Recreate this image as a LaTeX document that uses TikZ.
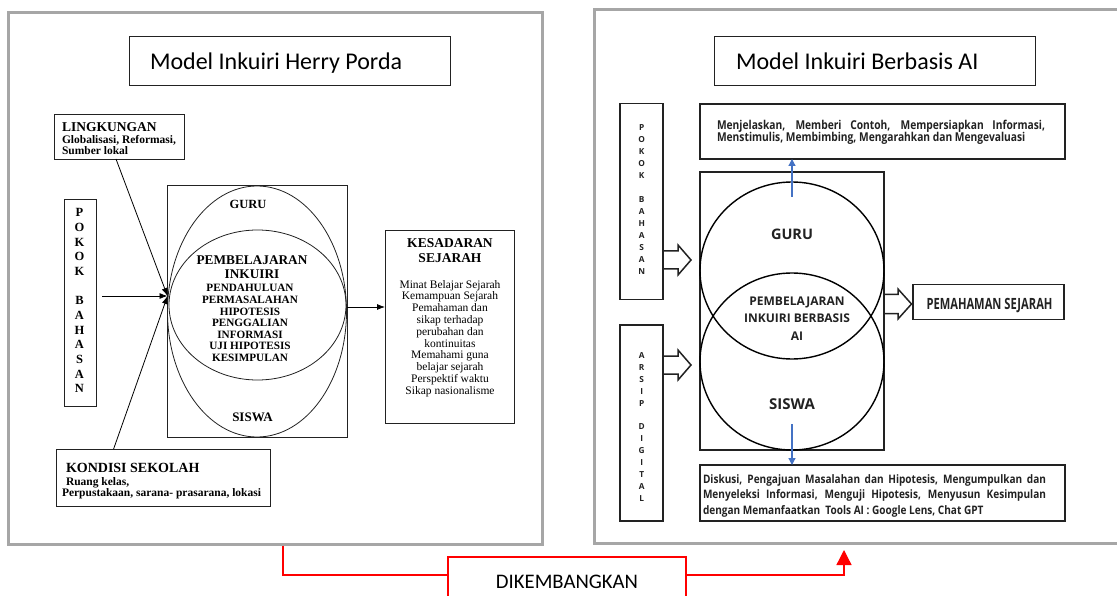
\documentclass[tikz,border=0pt]{standalone}
\usepackage{fontspec}
\usepackage{graphicx}
\setmainfont{Liberation Serif}
\newfontfamily\carl{Carlito}
\newfontfamily\osans{Open Sans}
\usetikzlibrary{arrows.meta,shapes.geometric}
\newcommand\fsz[2]{\fontsize{#1}{#2}\selectfont}
\definecolor{framegray}{HTML}{A6A6A6}
\definecolor{dk}{HTML}{222222}
\definecolor{bluearr}{HTML}{4472C4}
\begin{document}
\begin{tikzpicture}[x=1pt,y=-1pt,
  frame/.style={rectangle,draw=framegray,line width=3pt,inner sep=0pt},
  boxL/.style={rectangle,draw=dk,line width=0.9pt,inner sep=0pt,outer sep=0pt},
  boxR/.style={rectangle,draw=dk,line width=1.5pt,inner sep=0pt,outer sep=0pt},
  ellL/.style={ellipse,draw=dk,line width=0.8pt,inner sep=0pt,outer sep=0pt},
  ellR/.style={ellipse,draw=black,line width=1.4pt,inner sep=0pt,outer sep=0pt},
  txt/.style={inner sep=0pt,outer sep=0pt},
  larr/.style={draw=black,line width=0.8pt,-{Latex[length=8pt,width=6pt]}},
  barr/.style={draw=bluearr,line width=1.2pt,-{Triangle[length=7pt,width=7pt]}},
  hollow/.style={draw=dk,line width=1.5pt,line join=miter},
  redl/.style={draw=red,line width=1.3pt},
  titlefont/.style={font=\carl\fsz{24}{28}},
  rtext/.style={txt,anchor=base west,text=dk,font=\osans\bfseries\fsz{12}{14}}
]
\useasboundingbox (0,0) rectangle (1117,596);
\fill[white] (0,0) rectangle (1117,596);

% ===================== LEFT FRAME =====================
\node[frame,minimum width=534,minimum height=531] (frameL) at (275,278.5) {};
\node[boxL,minimum width=321,minimum height=49] (titleL) at (289.5,60.5) {};
\node[txt,anchor=base west,titlefont] (titleLt) at (150,69.5) {Model Inkuiri Herry Porda};

% LINGKUNGAN
\node[boxL,minimum width=130,minimum height=45] (ling) at (119,136.5) {};
\node[txt,anchor=base west,font=\bfseries\fsz{13.5}{16}] (lingT) at (62,132) {LINGKUNGAN};
\node[txt,anchor=north west,align=left,font=\bfseries\fsz{11.5}{11}] (lingB) at (62,135.1)
  {Globalisasi, Reformasi,\\Sumber lokal};

% POKOK BAHASAN (left)
\node[boxL,minimum width=32,minimum height=207] (pokokL) at (80,302.5) {};
\node[txt,anchor=north,align=center,font=\bfseries\fsz{12.5}{14.65}] (pokokLt) at (79.5,208.7)
  {P\\O\\K\\O\\K\\[14.65pt]B\\A\\H\\A\\S\\A\\N};

% central box with ellipses
\node[boxL,minimum width=180,minimum height=252] (cboxL) at (257,311) {};
\node[ellL,minimum width=179,minimum height=251] (ellOut) at (257,311.5) {};
\node[ellL,minimum width=177,minimum height=150] (ellIn) at (257.5,305) {};
\node[txt,anchor=base,font=\bfseries\fsz{12.5}{14}] (guruL) at (248,209) {GURU};
\node[txt,anchor=north,align=center,font=\bfseries\fsz{13.3}{14}] (pembL) at (252,256.2)
  {PEMBELAJARAN\\INKUIRI};
\node[txt,anchor=north,align=center,font=\bfseries\fsz{11.2}{11.6}] (stepsL) at (250,284.6)
  {PENDAHULUAN\\PERMASALAHAN\\HIPOTESIS\\PENGGALIAN\\INFORMASI\\UJI HIPOTESIS\\KESIMPULAN};
\node[txt,anchor=base,font=\bfseries\fsz{13}{14}] (siswaL) at (252.5,421) {SISWA};

% KESADARAN SEJARAH
\node[boxL,minimum width=129,minimum height=193] (kesa) at (449.5,326.5) {};
\node[txt,anchor=north,align=center,font=\bfseries\fsz{13.5}{14.3}] (kesaT) at (450,238.8)
  {KESADARAN\\SEJARAH};
\node[txt,anchor=north,align=center,font=\fsz{11.5}{11.8}] (kesaB) at (450,280.1)
  {Minat Belajar Sejarah\\Kemampuan Sejarah\\Pemahaman dan\\sikap terhadap\\perubahan dan\\kontinuitas\\Memahami guna\\belajar sejarah\\Perspektif waktu\\Sikap nasionalisme};

% KONDISI SEKOLAH
\node[boxL,minimum width=214,minimum height=57] (kond) at (163,477.5) {};
\node[txt,anchor=base west,font=\bfseries\fsz{14}{16}] (kondT) at (66,472.3) {KONDISI SEKOLAH};
\node[txt,anchor=base west,font=\bfseries\fsz{11.5}{13}] (kondB1) at (66,485) {Ruang kelas,};
\node[txt,anchor=base west,font=\bfseries\fsz{11.5}{13}] (kondB2) at (62,496.5) {Perpustakaan, sarana- prasarana, lokasi};

% left connectors
\coordinate (hub) at ([yshift=15.5pt]ellOut.west);
\coordinate (lingA) at ([xshift=-3pt]ling.south);
\coordinate (kondA) at ([xshift=-49.4pt]kond.north);
\coordinate (pkA) at ([xshift=6pt]pokokL.east);
\draw[larr] (lingA) -- (hub);
\draw[larr] (kondA) -- (hub);
\draw[larr] (pkA |- hub) -- (hub);
\coordinate (kesaIn) at ([yshift=19.5pt]kesa.west);
\draw[larr] (cboxL.east |- kesaIn) -- (kesaIn);

% ===================== RIGHT FRAME =====================
\draw[draw=framegray,line width=3pt] (1117,10) -- (594,10) -- (594,543) -- (1117,543);
\node[boxL,minimum width=321,minimum height=49] (titleR) at (874.5,60.5) {};
\node[txt,anchor=base west,titlefont] (titleRt) at (736,69.5) {Model Inkuiri Berbasis AI};

% side boxes
\node[boxR,minimum width=43,minimum height=196] (pokokR) at (641.5,201.5) {};
\node[txt,anchor=north,align=center,text=dk,font=\osans\bfseries\fsz{8.3}{12}] (pokokRt) at (641.7,124.3)
  {P\\O\\K\\O\\K\\[12pt]B\\A\\H\\A\\S\\A\\N};
\node[boxR,minimum width=43,minimum height=196] (arsip) at (641.5,423) {};
\node[txt,anchor=north,align=center,text=dk,font=\osans\bfseries\fsz{8.3}{11.9}] (arsipt) at (641.7,352.6)
  {A\\R\\S\\I\\P\\[11.9pt]D\\I\\G\\I\\T\\A\\L};

% top text box
\node[boxR,minimum width=365,minimum height=55] (topbox) at (882.5,131.5) {};
\node[rtext,font=\osans\bfseries\fsz{12.2}{14}] (topT1) at (717,129.3)
  {\scalebox{0.84}[1]{\makebox[390.5pt][s]{Menjelaskan, Memberi Contoh, Mempersiapkan Informasi,}}};
\node[rtext,font=\osans\bfseries\fsz{12.2}{14}] (topT2) at (717,141.7)
  {\scalebox{0.84}[1]{Menstimulis, Membimbing, Mengarahkan dan Mengevaluasi}};

% central box with circles
\node[boxR,minimum width=184,minimum height=278] (cboxR) at (792,311) {};
\node[ellR,minimum width=184,minimum height=177] (guruC) at (792,270.5) {};
\node[ellR,minimum width=184,minimum height=177] (siswaC) at (792,361.5) {};
\node[txt,anchor=base,text=dk,font=\osans\bfseries\fsz{14.5}{16}] (guruR) at (792,240) {GURU};
\node[txt,anchor=north,align=center,text=dk,font=\osans\bfseries\fsz{12}{17.5}] (pembR) at (797,296.4)
  {PEMBELAJARAN\\INKUIRI BERBASIS\\AI};
\node[txt,anchor=base,text=dk,font=\osans\bfseries\fsz{15}{16}] (siswaR) at (792,409.3) {SISWA};

% PEMAHAMAN SEJARAH
\node[boxR,minimum width=151,minimum height=35] (pem) at (988.5,302) {};
\node[txt,anchor=base,text=dk,font=\osans\bfseries\fsz{15.5}{17}] (pemT) at (989.5,309.3)
  {\scalebox{0.72}[1]{PEMAHAMAN SEJARAH}};

% bottom text box
\node[boxR,minimum width=365,minimum height=56] (botbox) at (882.5,493) {};
\node[rtext,font=\osans\bfseries\fsz{11.7}{14}] (botT1) at (703,483.3)
  {\scalebox{0.86}[1]{\makebox[398.8pt][s]{Diskusi, Pengajuan Masalahan dan Hipotesis, Mengumpulkan dan}}};
\node[rtext,font=\osans\bfseries\fsz{11.7}{14}] (botT2) at (703,498.3)
  {\scalebox{0.86}[1]{\makebox[398.8pt][s]{Menyeleksi Informasi, Menguji Hipotesis, Menyusun Kesimpulan}}};
\node[rtext,font=\osans\bfseries\fsz{11.7}{14}] (botT3) at (703,514)
  {\scalebox{0.86}[1]{dengan Memanfaatkan\ \ Tools AI : Google Lens, Chat GPT}};

% hollow arrows
\draw[hollow] ([yshift=-58.5pt]pokokR.east) ++(0,-9) -- ++(15,0) -- ++(0,-6) -- ++(13,15)
  -- ++(-13,15) -- ++(0,-6) -- ++(-15,0);
\draw[hollow] ([yshift=58pt]arsip.east) ++(0,-9) -- ++(15,0) -- ++(0,-6) -- ++(13,15)
  -- ++(-13,15) -- ++(0,-6) -- ++(-15,0);
\draw[hollow] ([yshift=7pt]cboxR.east) ++(0,-9.5) -- ++(14,0) -- ++(0,-5.5) -- ++(13.5,15)
  -- ++(-13.5,15) -- ++(0,-5.5) -- ++(-14,0);

% blue arrows
\coordinate (bu1) at ([yshift=-15pt]guruC.north);
\draw[barr] (bu1) -- (bu1 |- topbox.south);
\coordinate (bd1) at ([yshift=-62.5pt]siswaC.center);
\draw[barr] (bd1) -- (bd1 |- botbox.north);

% ===================== DIKEMBANGKAN =====================
\draw[redl] (448,596) -- (448,557) -- (686,557) -- (686,596);
\node[txt,anchor=base,font=\carl\fsz{20.7}{24}] (dik) at (567,588.3) {DIKEMBANGKAN};
\coordinate (redA) at ([xshift=8pt]frameL.south);
\coordinate (dikW) at (448,575);
\coordinate (dikE) at (686,575);
\coordinate (redTip) at (844,550);
\draw[redl] (redA) |- (dikW);
\draw[redl,-{Triangle[length=15pt,width=15pt]}] (dikE) -| (redTip);
\end{tikzpicture}
\end{document}
